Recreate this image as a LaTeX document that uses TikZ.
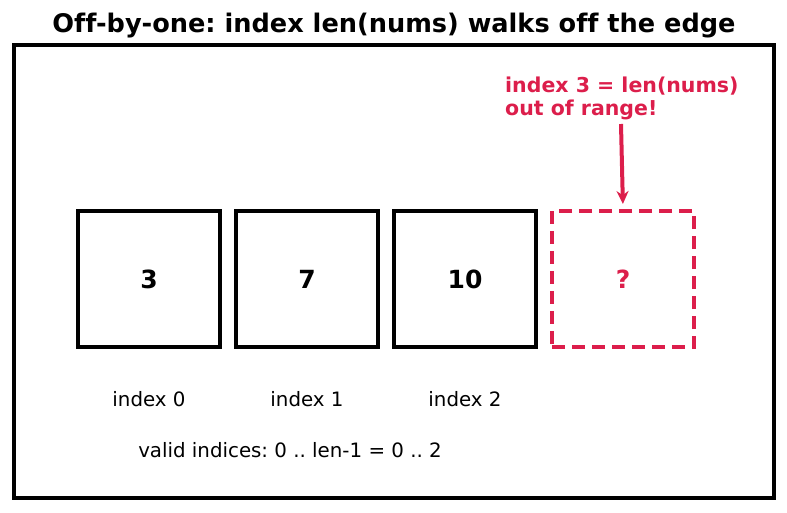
\documentclass[tikz,border=0pt]{standalone}
\usepackage{fontspec}
\setmainfont[Ligatures=NoCommon]{DejaVu Sans}
\usetikzlibrary{arrows.meta}
\definecolor{oobred}{RGB}{220,30,75}
\frenchspacing

\begin{document}
\begin{tikzpicture}[x=1pt, y=-1pt,
  cell/.style={draw=black, line width=4pt, minimum width=142pt, minimum height=136pt, inner sep=0pt,
    font=\fontsize{25}{29}\selectfont\bfseries},
  misscell/.style={cell, draw=oobred, text=oobred, dash pattern=on 13pt off 7pt},
  idx/.style={font=\fontsize{19.8}{23}\selectfont},
  warn/.style={font=\fontsize{20.5}{23}\selectfont\bfseries, text=oobred, align=left, inner sep=0pt},
  pointer/.style={draw=oobred, line width=4pt, -{Stealth[length=13pt, width=12pt]}, shorten >=5pt}
]
  \useasboundingbox (0,0) rectangle (787,512);
  \node[font=\fontsize{25.6}{30}\selectfont\bfseries] (title) at (394,26) {Off-by-one: index len(nums) walks off the edge};
  \draw[line width=4pt] (14,45) rectangle (774,498);
  % the array cells
  \node[cell]     (c0) at (149,279) {3};
  \node[cell]     (c1) at (307,279) {7};
  \node[cell]     (c2) at (465,279) {10};
  \node[misscell] (c3) at (623,279) {?};
  \node[idx] (i0) at (149,399) {index 0};
  \node[idx] (i1) at (307,399) {index 1};
  \node[idx] (i2) at (465,399) {index 2};
  \node[idx] (valid) at (290,450) {valid indices: 0 .. len-1 = 0 .. 2};
  % the missing slot
  \node[warn, anchor=north west] (note) at (505,77) {index 3 = len(nums)\\out of range!};
  \coordinate (tail) at (621,124);
  \draw[pointer] (tail) -- (c3.north);
\end{tikzpicture}
\end{document}
